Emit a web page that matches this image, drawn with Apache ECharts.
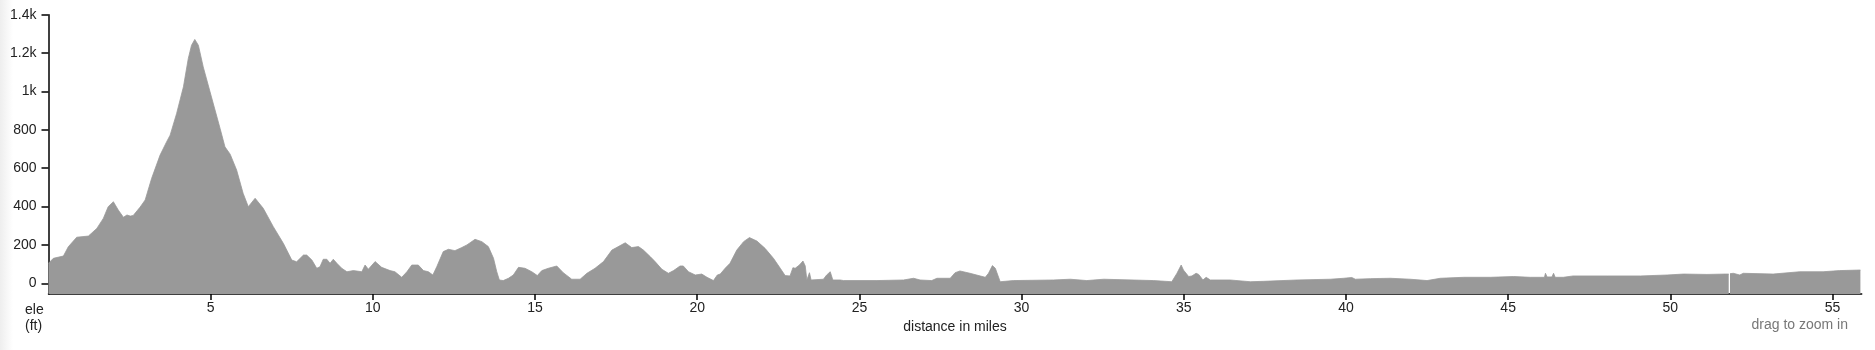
<!DOCTYPE html>
<html>
<head>
<meta charset="utf-8">
<script src="https://cdn.jsdelivr.net/npm/echarts@6/dist/echarts.min.js"></script>
<style>
html,body{margin:0;padding:0;background:#fff;}
#chart{width:1875px;height:350px;}
</style>
</head>
<body>
<div id="chart"></div>
<script>
// distance in miles
const distance = [
0,0.15,0.46,0.61,0.87,1.23,1.49,1.69,1.84,2.0,2.15,2.31,2.42,2.52,2.61,2.82,2.98,3.18,3.44,3.64,
3.75,3.95,4.16,4.31,4.41,4.51,4.62,4.77,4.98,5.29,5.44,5.6,5.8,6.0,6.16,6.37,6.62,6.93,7.24,7.5,
7.65,7.86,7.96,8.12,8.27,8.37,8.47,8.58,8.68,8.78,8.89,9.04,9.2,9.4,9.66,9.76,9.86,10.07,10.27,10.53,
10.68,10.89,11.05,11.2,11.4,11.56,11.71,11.85,11.97,12.17,12.33,12.53,12.74,12.9,13.15,13.36,13.56,13.72,13.82,13.9,
14.02,14.18,14.23,14.33,14.49,14.69,14.9,15.07,15.21,15.41,15.67,15.87,16.13,16.39,16.6,16.85,17.11,17.37,17.47,17.78,
17.98,18.19,18.34,18.55,18.7,18.91,19.11,19.27,19.47,19.57,19.73,19.94,20.14,20.3,20.5,20.62,20.71,20.86,21.01,21.22,
21.43,21.61,21.84,22.09,22.35,22.56,22.71,22.86,22.95,23.02,23.15,23.26,23.33,23.38,23.46,23.51,23.89,23.99,24.1,24.18,
24.41,24.51,25.54,26.36,26.67,26.87,27.23,27.39,27.8,27.95,28.1,28.41,28.88,28.98,29.1,29.19,29.34,29.75,30.98,31.5,
32.01,32.53,34.07,34.63,34.79,34.92,34.99,35.15,35.25,35.38,35.46,35.59,35.69,35.82,36.43,37.05,37.46,38.49,39.52,39.93,
40.18,40.29,40.75,41.37,41.98,42.5,42.91,43.63,44.45,45.17,45.68,45.99,46.12,46.15,46.2,46.35,46.4,46.45,46.7,47.0,
48.05,49.08,49.9,50.41,51.13,51.69,51.8,51.82,51.84,51.94,52.14,52.25,53.17,53.99,54.71,55.22,55.86
];
// elevation in feet (null = gap in the track)
const elevation = [
104,130,142,190,240,246,286,338,399,425,382,344,356,350,353,396,434,547,668,737,
772,885,1024,1172,1241,1271,1241,1128,998,807,711,673,590,469,399,443,391,295,208,121,
112,147,147,121,78,86,125,125,104,125,104,78,60,66,60,95,73,113,83,66,
60,31,60,95,95,66,60,43,86,165,177,170,186,200,229,217,191,130,60,17,
14,26,21,43,83,78,60,40,66,78,90,55,21,21,52,78,113,173,182,211,
186,191,173,139,113,73,52,66,90,90,60,43,48,31,14,43,48,78,104,173,
217,238,220,182,130,78,40,38,81,78,95,116,90,17,55,17,21,43,60,17,
17,14,14,17,26,17,14,26,26,55,64,52,31,52,92,78,8,14,17,21,
14,21,14,8,52,95,69,35,38,52,46,17,31,17,17,8,10,17,21,26,
30,21,24,26,21,14,26,31,31,35,31,31,31,52,33,33,52,31,31,38,
38,38,43,48,46,48,48,null,50,52,43,52,48,60,60,66,69
];
const xTicks = [5,10,15,20,25,30,35,40,45,50,55];
const yTicks = [0,200,400,600,800,1000,1200,1400];

const seriesData = distance.map((d, i) => [d, elevation[i]]);

const chart = echarts.init(document.getElementById('chart'), null, {renderer: 'canvas'});
const font = '"Liberation Sans", Arial, sans-serif';
chart.setOption({
  animation: false,
  backgroundColor: '#ffffff',
  grid: {left: 48.5, right: 13.3, top: 14.7, bottom: 56, containLabel: false},
  xAxis: {
    type: 'value',
    min: 0,
    max: 55.9,
    axisLine: {show: true, onZero: false, lineStyle: {color: '#000', width: 1.5}},
    axisTick: {show: true, length: 6, customValues: xTicks, lineStyle: {color: '#000', width: 1.5}},
    axisLabel: {customValues: xTicks, margin: 7, fontSize: 14, color: '#222', fontFamily: font},
    splitLine: {show: false}
  },
  yAxis: {
    type: 'value',
    min: -56,
    max: 1400,
    axisLine: {show: true, onZero: false, lineStyle: {color: '#000', width: 1.5}},
    axisTick: {show: true, length: 7, customValues: yTicks, lineStyle: {color: '#000', width: 1.5}},
    axisLabel: {
      customValues: yTicks, margin: 12, fontSize: 14, color: '#222', fontFamily: font,
      formatter: v => v >= 1000 ? (v / 1000) + 'k' : String(v)
    },
    splitLine: {show: false}
  },
  series: [{
    type: 'line',
    data: seriesData,
    symbol: 'none',
    connectNulls: false,
    sampling: null,
    lineStyle: {width: 0.8, color: '#999'},
    areaStyle: {color: '#999999', opacity: 1, origin: 'start'}
  }],
  graphic: [
    {type: 'rect', left: 0, top: 0, z: -1, shape: {width: 13, height: 350},
     style: {fill: new echarts.graphic.LinearGradient(0, 0, 1, 0, [{offset: 0, color: '#eeeeee'}, {offset: 1, color: '#ffffff'}])}},
    {type: 'text', left: 25, top: 302, style: {text: 'ele\n(ft)', lineHeight: 16, fill: '#222', font: '14px ' + font}},
    {type: 'text', x: 955, y: 327, style: {text: 'distance in miles', align: 'center', verticalAlign: 'middle', fill: '#222', font: '14px ' + font}},
    {type: 'text', x: 1848, y: 325, style: {text: 'drag to zoom in', align: 'right', verticalAlign: 'middle', fill: '#777', font: '14px ' + font}}
  ]
});
</script>
</body>
</html>
